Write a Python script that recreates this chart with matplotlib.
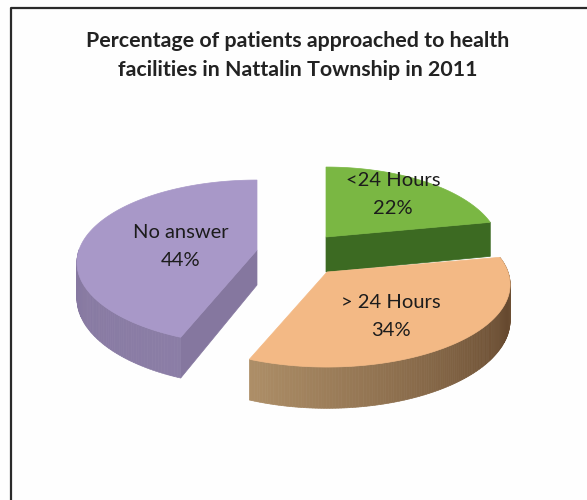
import numpy as np
import matplotlib
matplotlib.use("Agg")
import matplotlib.pyplot as plt
from matplotlib.patches import Polygon
from matplotlib.colors import to_rgb

title_lines = ["Percentage of patients approached to health",
               "facilities in Nattalin Township in 2011"]
categories = ["<24 Hours", "> 24 Hours", "No answer"]
shares = [22, 34, 44]

top_colors = ["#7ab743", "#f3b985", "#a898c8"]
wall_dark = ["#3c6a22", "#66492f", "#85779f"]
wall_light = ["#3f6e24", "#ad8e67", "#9184ad"]

# apex of every exploded slice, in pixels
apex = [(326, 237), (327, 272), (257, 250)]
radius = [172, 181, 178]
label_pos = [(393, 181), (391, 302), (181, 232)]

RY = 80.6
PERSP = 0.152
DEPTH = 35


def project(ang, r, center):
    # clockwise angle from 12 o'clock on the pie plane, to picture pixels
    u = np.sin(ang)
    v = np.cos(ang)
    s = 1 / (1 + PERSP * v)
    return center[0] + r * u * s, center[1] - RY * v * s, DEPTH * s


def mix(c1, c2, t):
    c1, c2 = np.array(to_rgb(c1)), np.array(to_rgb(c2))
    return tuple(c1 + (c2 - c1) * t)


fig = plt.figure(figsize=(5.87, 5.00), dpi=100, facecolor="#fefefe")
ax = fig.add_axes([0, 0, 1, 1])
ax.set_xlim(0, 587)
ax.set_ylim(500, 0)
ax.axis("off")

# chart frame, runs off the right and bottom of the picture
ax.plot([11, 11, 587], [500, 8, 8], color="#2a2a2a", lw=1.6, zorder=1)

edges = np.cumsum([0] + shares) / sum(shares) * 2 * np.pi

for i, cat in enumerate(categories):
    ang = np.linspace(edges[i], edges[i + 1], 160)
    x, y, d = project(ang, radius[i], apex[i])
    cx, cy = apex[i]

    # straight cut wall, only seen when it faces the viewer
    if i == 0:
        ax.add_patch(Polygon([(cx, cy), (x[-1], y[-1]), (x[-1], y[-1] + d[-1]), (cx, cy + DEPTH)],
                             fc=wall_dark[i], ec=wall_dark[i], lw=0.5, zorder=2))
    if i == 2:
        ax.add_patch(Polygon([(cx, cy), (x[0], y[0]), (x[0], y[0] + d[0]), (cx, cy + DEPTH)],
                             fc=wall_dark[i], ec=wall_dark[i], lw=0.5, zorder=2))

    # rim wall, split up so the shading can run along it
    for k in range(len(ang) - 1):
        if np.cos(ang[k]) > 0 and not (np.sin(ang[k]) > 0 and i == 1):
            continue
        t = k / (len(ang) - 2)
        if i == 1:
            shade = abs(t - 0.25) / 0.75 if t > 0.25 else (0.25 - t) * 1.2
        else:
            shade = abs(t - 0.5)
        col = mix(wall_dark[i], wall_light[i], min(shade, 1))
        ax.add_patch(Polygon([(x[k], y[k]), (x[k + 1], y[k + 1]),
                              (x[k + 1], y[k + 1] + d[k + 1]), (x[k], y[k] + d[k])],
                             fc=col, ec=col, lw=0.5, zorder=2))

    ax.add_patch(Polygon(np.column_stack([np.r_[cx, x], np.r_[cy, y]]),
                         fc=top_colors[i], ec=top_colors[i], lw=0.5, zorder=3))

    ax.text(label_pos[i][0], label_pos[i][1], cat, family="Lato", fontsize=14.5,
            color="#1c1c1c", ha="center", va="center", zorder=4)
    ax.text(label_pos[i][0], label_pos[i][1] + 28, f"{shares[i]}%", family="Lato", fontsize=14.5,
            color="#1c1c1c", ha="center", va="center", zorder=4)

for line, ypos in zip(title_lines, [41, 70]):
    ax.text(298, ypos, line, family="Lato", fontweight="bold", fontsize=15.4, color="#222222",
            ha="center", va="center", zorder=4)

fig.savefig("out.png", dpi=100, facecolor=fig.get_facecolor())
